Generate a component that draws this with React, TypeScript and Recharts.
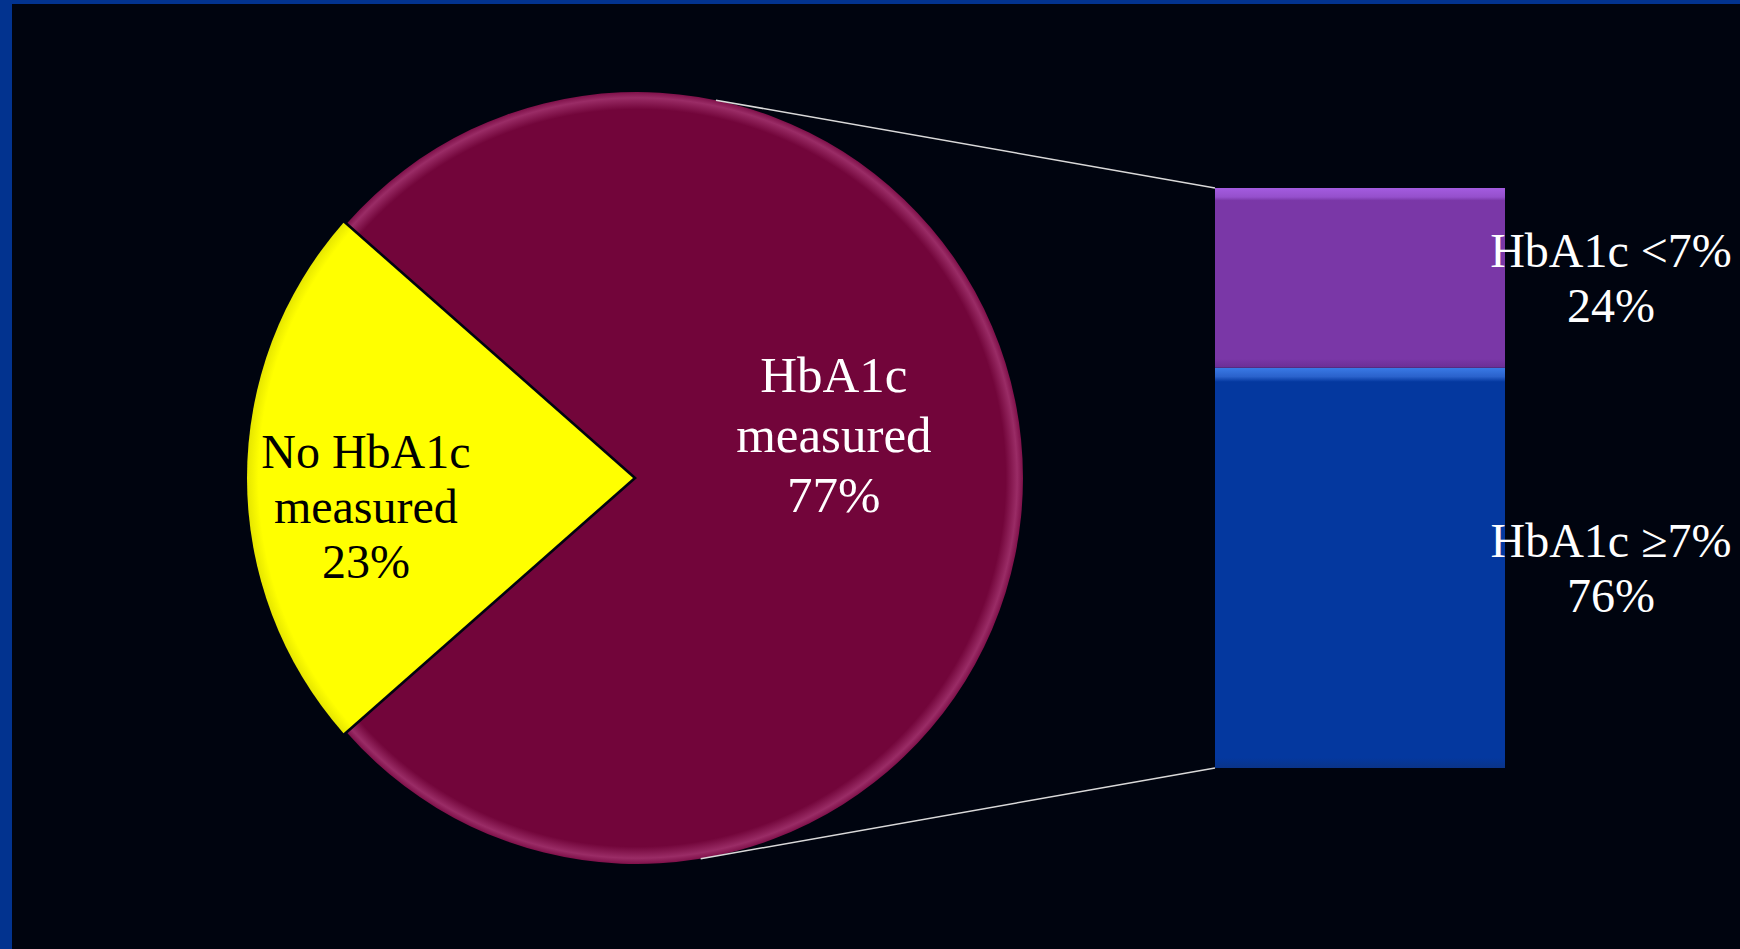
import { PieChart, Pie, Cell, BarChart, Bar, XAxis, YAxis, LabelList } from "recharts";

// pie: HbA1c measured or not
const pieSlices = ["No HbA1c measured", "HbA1c measured"];
const pieValues = [23, 77];
const pieLabels = [
  ["No HbA1c", "measured", "23%"],
  ["HbA1c", "measured", "77%"],
];

// bar: split of the measured group (bar heights as drawn in the picture)
const barCategories = ["HbA1c measured"];
const barAtOrAbove7 = [69];
const barBelow7 = [31];
const barLabelsAtOrAbove7 = ["HbA1c ≥7%", "76%"];
const barLabelsBelow7 = ["HbA1c <7%", "24%"];

const W = 1740;
const H = 949;
const FONT = '"Liberation Serif", "DejaVu Serif", serif';

// layout
const PIE_CY = 478;
const PIE_R = 386;
const YELLOW_CX = 633;
const MAROON_CX = 637;
const BAR_LEFT = 1215;
const BAR_RIGHT = 1505;
const BAR_TOP = 188;
const BAR_BOTTOM = 768;

const pieData = pieSlices.map((name, i) => ({ name, value: pieValues[i] }));
const barData = barCategories.map((name, i) => ({
  name,
  ge7: barAtOrAbove7[i],
  lt7: barBelow7[i],
}));

const yellowSpan = (pieValues[0] / pieValues.reduce((a, b) => a + b, 0)) * 360;
const START = 180 - yellowSpan / 2;

const labelCfg = [
  { k: 0.692, dy: -10, lh: 55, size: 48, color: "#000000" },
  { k: 0.51, dy: -86, lh: 60, size: 51, color: "#ffffff" },
];

const makePieLabel = (which: number) => (props: any) => {
  const { cx, cy, midAngle, outerRadius, index } = props;
  if (index !== which) return <g />;
  const cfg = labelCfg[which];
  const rad = Math.PI / 180;
  const x = cx + outerRadius * cfg.k * Math.cos(-midAngle * rad);
  const y = cy + outerRadius * cfg.k * Math.sin(-midAngle * rad) + cfg.dy;
  return (
    <text x={x} y={y} textAnchor="middle" fill={cfg.color} fontSize={cfg.size} fontFamily={FONT}>
      {pieLabels[which].map((line, i) => (
        <tspan key={i} x={x} dy={i === 0 ? 0 : cfg.lh}>
          {line}
        </tspan>
      ))}
    </text>
  );
};

const makeBarLabel = (lines: string[]) => (props: any) => {
  const { x, y, width, height } = props;
  const cx = x + width + 106;
  const mid = y + height / 2;
  return (
    <text x={cx} y={mid - 11} textAnchor="middle" fill="#ffffff" fontSize={48} fontFamily={FONT}>
      <tspan x={cx}>{lines[0]}</tspan>
      <tspan x={cx} dy={55}>{lines[1]}</tspan>
    </text>
  );
};

// connector lines from the pie rim to the bar corners
const connectAngles = [78.2, -80.5];
const rimPoint = (deg: number) => ({
  x: MAROON_CX + PIE_R * Math.cos((deg * Math.PI) / 180),
  y: PIE_CY - PIE_R * Math.sin((deg * Math.PI) / 180),
});

const abs = { position: "absolute" as const, left: 0, top: 0 };

export default function App() {
  const p1 = rimPoint(connectAngles[0]);
  const p2 = rimPoint(connectAngles[1]);
  return (
    <div style={{ ...abs, width: W, height: H, background: "#00040f", overflow: "hidden" }}>
      {/* gradients shared by the charts */}
      <svg width={0} height={0} style={{ position: "absolute" }}>
        <defs>
          <radialGradient id="maroonRim" gradientUnits="userSpaceOnUse" cx={MAROON_CX} cy={PIE_CY} r={PIE_R}>
            <stop offset="0" stopColor="#72053a" />
            <stop offset="0.955" stopColor="#72053a" />
            <stop offset="0.985" stopColor="#9a2c66" />
            <stop offset="1" stopColor="#7e1049" />
          </radialGradient>
          <radialGradient id="yellowRim" gradientUnits="userSpaceOnUse" cx={YELLOW_CX} cy={PIE_CY} r={PIE_R}>
            <stop offset="0" stopColor="#ffff00" />
            <stop offset="0.97" stopColor="#ffff00" />
            <stop offset="1" stopColor="#e6e600" />
          </radialGradient>
          <linearGradient id="purpleBar" x1="0" y1="0" x2="0" y2="1">
            <stop offset="0" stopColor="#a45ce0" />
            <stop offset="0.05" stopColor="#9550cc" />
            <stop offset="0.07" stopColor="#7a37a7" />
            <stop offset="0.95" stopColor="#7a37a7" />
            <stop offset="1" stopColor="#6b2e95" />
          </linearGradient>
          <linearGradient id="blueBar" x1="0" y1="0" x2="0" y2="1">
            <stop offset="0" stopColor="#3a7ae6" />
            <stop offset="0.022" stopColor="#2a62cc" />
            <stop offset="0.035" stopColor="#04389f" />
            <stop offset="0.975" stopColor="#04389f" />
            <stop offset="1" stopColor="#0a3488" />
          </linearGradient>
        </defs>
      </svg>

      {/* slide frame */}
      <div style={{ ...abs, width: 12, height: H, background: "#02338f" }} />
      <div style={{ ...abs, width: W, height: 4, background: "#02338f" }} />

      <div style={abs}>
        <PieChart width={W} height={H} margin={{ top: 0, right: 0, bottom: 0, left: 0 }}>
          <Pie
            data={pieData}
            dataKey="value"
            cx={YELLOW_CX}
            cy={PIE_CY}
            outerRadius={PIE_R}
            startAngle={START}
            endAngle={START + 360}
            stroke="none"
            labelLine={false}
            label={makePieLabel(0)}
            isAnimationActive={false}
          >
            <Cell fill="url(#yellowRim)" />
            <Cell fill="transparent" />
          </Pie>
          <Pie
            data={pieData}
            dataKey="value"
            cx={MAROON_CX}
            cy={PIE_CY}
            outerRadius={PIE_R}
            startAngle={START}
            endAngle={START + 360}
            stroke="none"
            labelLine={false}
            label={makePieLabel(1)}
            isAnimationActive={false}
          >
            <Cell fill="transparent" />
            <Cell fill="url(#maroonRim)" />
          </Pie>
        </PieChart>
      </div>

      <div style={abs}>
        <BarChart
          width={W}
          height={H}
          data={barData}
          barCategoryGap={0}
          margin={{ top: BAR_TOP, bottom: H - BAR_BOTTOM, left: BAR_LEFT, right: W - BAR_RIGHT }}
        >
          <XAxis dataKey="name" hide />
          <YAxis hide domain={[0, 100]} />
          <Bar dataKey="ge7" stackId="s" fill="url(#blueBar)" isAnimationActive={false}>
            <LabelList dataKey="ge7" content={makeBarLabel(barLabelsAtOrAbove7)} />
          </Bar>
          <Bar dataKey="lt7" stackId="s" fill="url(#purpleBar)" isAnimationActive={false}>
            <LabelList dataKey="lt7" content={makeBarLabel(barLabelsBelow7)} />
          </Bar>
        </BarChart>
      </div>

      <svg width={W} height={H} style={{ ...abs, pointerEvents: "none" }}>
        <line x1={p1.x} y1={p1.y} x2={BAR_LEFT} y2={BAR_TOP} stroke="#d9d9d9" strokeWidth={1.5} />
        <line x1={p2.x} y1={p2.y} x2={BAR_LEFT} y2={BAR_BOTTOM} stroke="#d9d9d9" strokeWidth={1.5} />
      </svg>
    </div>
  );
}
